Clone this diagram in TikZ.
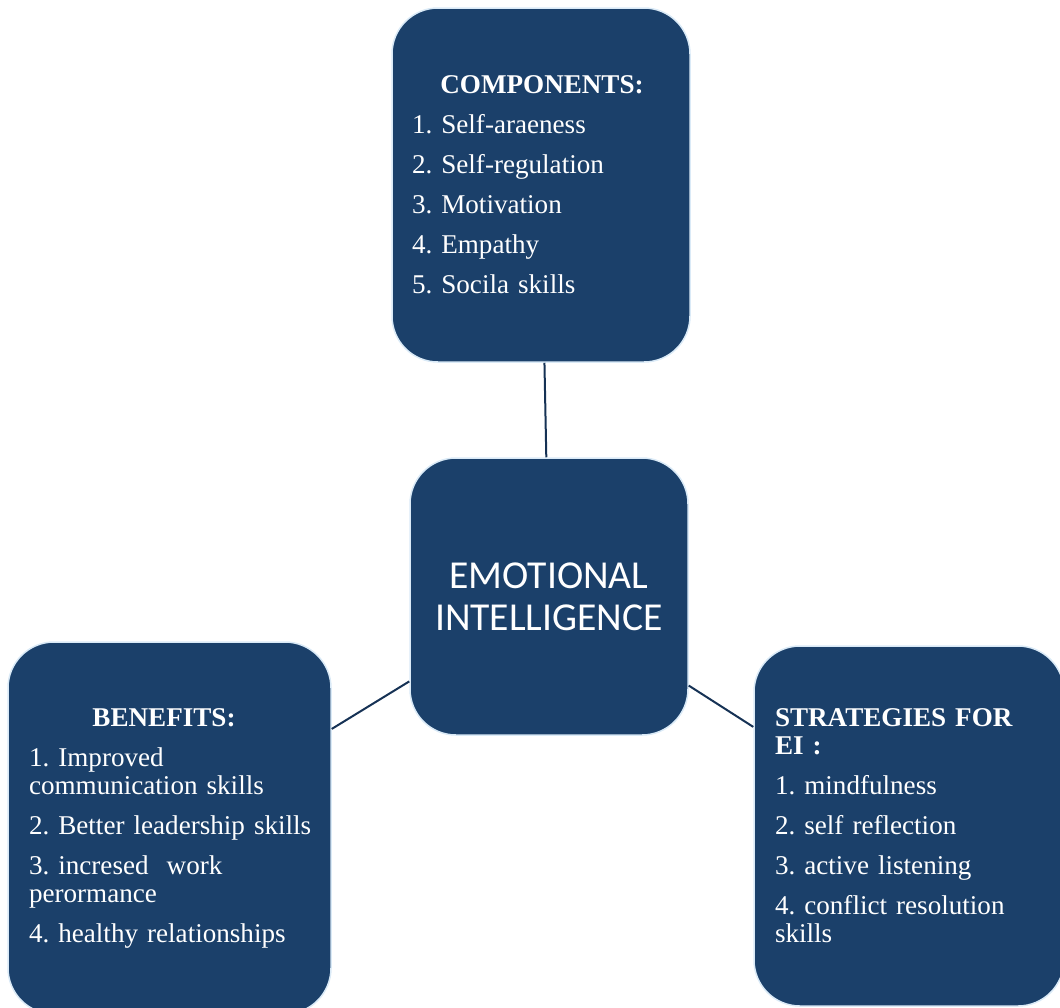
\documentclass[tikz,border=0pt]{standalone}
\usepackage{fontspec}
\setmainfont{Liberation Serif}
\newfontfamily\calib{Carlito}
\definecolor{eiblue}{RGB}{27,64,106}
\definecolor{eiedge}{RGB}{218,234,247}
\definecolor{eiline}{RGB}{22,50,85}
\frenchspacing

\begin{document}
\begin{tikzpicture}[x=1pt,y=-1pt,
  box/.style={draw=eiedge,line width=1.5pt,fill=eiblue,rounded corners=46pt,
    text=white,align=left,inner xsep=20pt,inner ysep=0pt,
    font=\fontsize{27.1}{28}\selectfont},
  link/.style={draw=eiline,line width=2pt}]
  \useasboundingbox (0,0) rectangle (1060,1007);
  % the four boxes
  \node[box,text width=258pt,minimum width=298pt,minimum height=354pt] (comp) at (541,185)
    {\makebox[260pt]{\bfseries COMPONENTS:}\\[12pt]
     1. Self-araeness\\[12pt]
     2. Self-regulation\\[12pt]
     3. Motivation\\[12pt]
     4. Empathy\\[12pt]
     5. Socila skills};
  \node[box,align=center,inner xsep=0pt,minimum width=278pt,minimum height=277pt,
    font=\calib\fontsize{39.6}{42}\selectfont] (ei) at (549,596.5)
    {EMOTIONAL\\INTELLIGENCE};
  \node[box,inner xsep=21pt,text width=281pt,minimum width=323pt,minimum height=372pt] (ben) at (169.5,828)
    {\makebox[270pt]{\bfseries BENEFITS:}\\[12pt]
     1. Improved\\communication skills\\[12pt]
     \mbox{2. Better leadership skills}\\[12pt]
     3. incresed~ work\\perormance\\[12pt]
     4. healthy relationships};
  \node[box,inner xsep=21pt,text width=268pt,minimum width=310pt,minimum height=360pt] (strat) at (909,826)
    {\textbf{STRATEGIES FOR}\\\textbf{EI :}\\[12pt]
     1. mindfulness\\[12pt]
     2. self reflection\\[12pt]
     3. active listening\\[12pt]
     4. conflict resolution\\skills};
  % links to the centre
  \draw[link] (comp) -- (ei);
  \draw[link] (ben) -- (ei);
  \draw[link] (strat) -- (ei);
\end{tikzpicture}
\end{document}
